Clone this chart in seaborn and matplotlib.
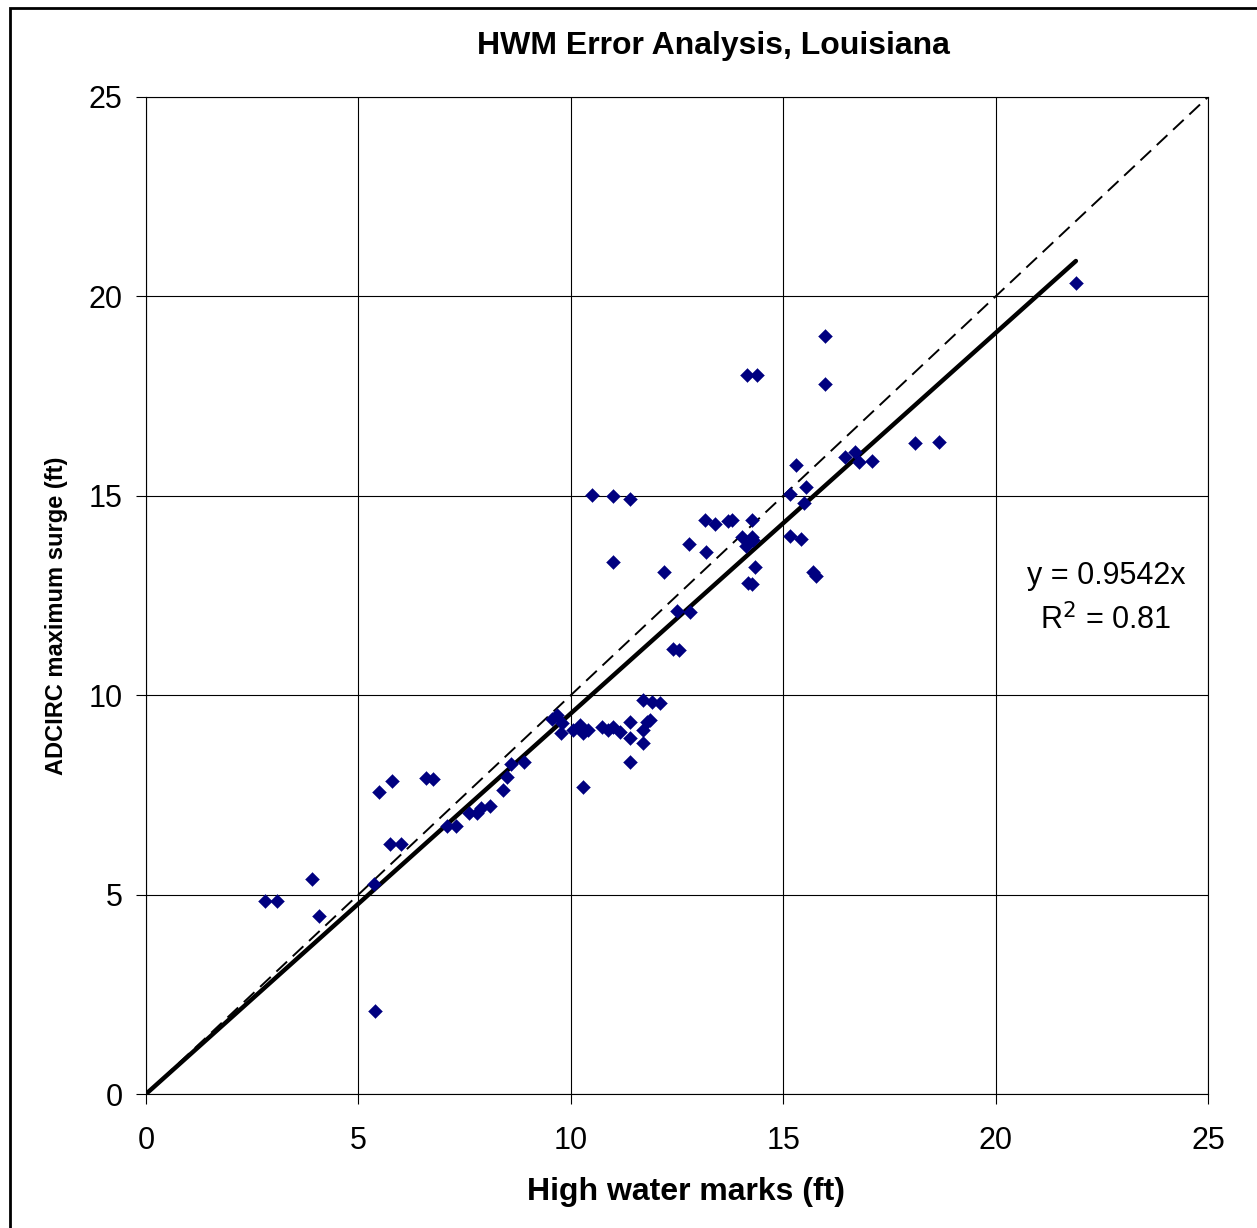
import numpy as np
import pandas as pd
import seaborn as sns
import matplotlib.pyplot as plt
from matplotlib.patches import Rectangle

# dados (ft)
hwm = [2.79, 3.09, 3.90, 4.08, 5.37, 5.39, 5.49, 5.79, 5.74, 6.01, 6.58, 6.75,
       7.08, 7.29, 7.60, 7.80, 7.88, 8.10, 8.40, 8.49, 8.59, 8.91,
       9.55, 9.67, 9.80, 9.78, 10.06, 10.22, 10.29, 10.41, 10.73, 10.88, 11.00,
       11.16, 11.39, 11.39, 11.71, 11.90, 12.10, 11.79, 11.86, 11.71, 11.71,
       11.39, 10.29,
       10.49, 10.99, 11.39, 11.00, 12.19, 12.79, 13.18, 13.16, 13.39, 13.71,
       13.80, 14.26, 14.02, 14.12, 14.26, 14.30, 14.34, 14.18, 14.26, 12.49,
       12.81, 12.41, 12.55,
       15.17, 15.53, 15.29, 15.49, 15.17, 15.41, 15.70, 15.78,
       21.89, 15.99, 15.99, 14.15, 14.38, 16.45, 16.68, 16.79, 17.10, 18.11, 18.67]
surge = [4.85, 4.85, 5.38, 4.47, 5.27, 2.09, 7.57, 7.84, 6.28, 6.27, 7.92, 7.91,
         6.73, 6.71, 7.04, 7.04, 7.18, 7.22, 7.62, 7.94, 8.27, 8.33,
         9.40, 9.50, 9.30, 9.04, 9.13, 9.25, 9.04, 9.13, 9.21, 9.13, 9.21,
         9.08, 9.34, 8.92, 9.88, 9.84, 9.80, 9.34, 9.38, 9.13, 8.81,
         8.33, 7.71,
         15.01, 15.00, 14.91, 13.34, 13.09, 13.79, 13.60, 14.39, 14.29, 14.37,
         14.39, 14.39, 13.96, 13.74, 13.96, 13.89, 13.22, 12.82, 12.79, 12.12,
         12.08, 11.16, 11.13,
         15.05, 15.21, 15.78, 14.81, 13.99, 13.91, 13.08, 12.98,
         20.33, 19.01, 17.80, 18.03, 18.03, 15.98, 16.10, 15.84, 15.87, 16.33, 16.36]

slope = 0.9542
r2 = 0.81
ticks = [0, 5, 10, 15, 20, 25]

df = pd.DataFrame({'hwm': hwm, 'surge': surge})

sns.set_style("white")
plt.rcParams['font.family'] = ['Liberation Sans', 'DejaVu Sans']
plt.rcParams.update({'text.color': 'black', 'axes.labelcolor': 'black',
                     'xtick.color': 'black', 'ytick.color': 'black'})

fig = plt.figure(figsize=(12.57, 12.28), dpi=100)
ax = fig.add_axes([146 / 1257, 1 - 1094 / 1228, (1208 - 146) / 1257, (1094 - 97) / 1228])

# linha 1:1 tracejada
sns.lineplot(x=[0, 25], y=[0, 25], ax=ax, color='black', linewidth=1.4,
             linestyle=(0, (7.5, 4)), zorder=2)
# linha de tendência
xfit = [0, max(hwm)]
sns.lineplot(x=xfit, y=[slope * v for v in xfit], ax=ax, color='black',
             linewidth=3.2, zorder=3)
# pontos
sns.scatterplot(data=df, x='hwm', y='surge', ax=ax, marker='D', s=50,
                color='#000080', edgecolor='#000080', linewidth=0.3, zorder=4)

ax.set_xlim(0, 25)
ax.set_ylim(0, 25)
ax.set_xticks(ticks)
ax.set_yticks(ticks)
ax.grid(True, color='black', linewidth=0.8)
for s in ax.spines.values():
    s.set_color('black')
    s.set_linewidth(0.8)
ax.tick_params(axis='both', direction='out', length=7, width=0.8, color='black',
               labelcolor='black', labelsize=22, bottom=True, left=True)
ax.tick_params(axis='x', pad=16)
ax.tick_params(axis='y', pad=10)
ax.set_xlabel('')
ax.set_ylabel('')

ax.text(22.6, 13.0, 'y = 0.9542x', fontsize=22, ha='center', va='center', color='black')
ax.text(22.6, 11.88, 'R$^2$ = 0.81', fontsize=22, ha='center', va='center', color='black')

fig.text(713 / 1257, 1 - 46 / 1228, 'HWM Error Analysis, Louisiana', fontsize=23,
         fontweight='bold', ha='center', va='center', color='black')
fig.text(686 / 1257, 1 - 1192 / 1228, 'High water marks (ft)', fontsize=23,
         fontweight='bold', ha='center', va='center', color='black')
fig.text(57 / 1257, 1 - 616 / 1228, 'ADCIRC maximum surge (ft)', fontsize=17,
         fontweight='bold', ha='center', va='center', rotation=90, color='black')

# moldura externa
fig.add_artist(Rectangle((9.5 / 1257, -0.05), 1.2, 1 - 7.5 / 1228 + 0.05,
                         transform=fig.transFigure, fill=False,
                         edgecolor='black', linewidth=2))

fig.savefig('out.png', dpi=100)
